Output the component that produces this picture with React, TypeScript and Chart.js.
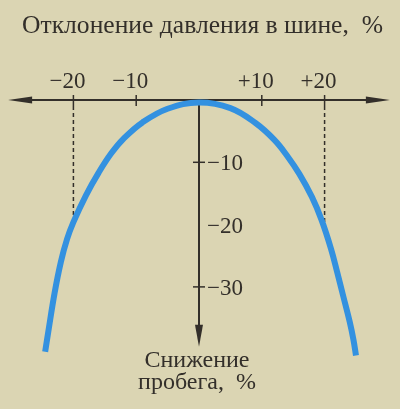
import { useEffect, useRef } from 'react';
import { Chart, registerables, ChartConfiguration, Plugin } from 'chart.js';

Chart.register(...registerables);

// curve: tyre pressure deviation (%) vs mileage reduction (%)
const pressureDeviation = [-24.5, -24, -23, -22, -21, -20, -18, -16, -14, -12, -9, -5, 0, 5, 9, 12, 14, 16, 18, 19.5, 21, 22, 23, 24, 24.6, 25];
const mileageReduction = [-40.4, -37.2, -31.0, -26.0, -22.3, -19.6, -15.3, -11.7, -8.6, -6.2, -3.6, -1.4, -0.4, -1.3, -3.7, -6.4, -8.9, -11.9, -15.6, -19.2, -23.8, -27.6, -31.6, -35.6, -38.5, -41.0];

const xTickValues = [-20, -10, 10, 20];
const xTickLabels = ['−20', '−10', '+10', '+20'];
const yTickValues = [-10, -20, -30];
const yTickLabels = ['−10', '−20', '−30'];
const yTickMarks = [-10, -30];

// dashed guides at ±20 %
const guideX = [-20, 20];
const guideY = [-20, -20];

const titleText = 'Отклонение давления в шине,  %';
const yTitleLines = ['Снижение', 'пробега,  %'];

const INK = '#332f2a';
const PAPER = '#dbd5b3';
const SERIF = '"Liberation Serif", "DejaVu Serif", serif';

const arrowHead = (ctx: CanvasRenderingContext2D, tx: number, ty: number, dx: number, dy: number, len: number, half: number) => {
    // dx, dy: unit direction the arrow points to
    const bx = tx - dx * len;
    const by = ty - dy * len;
    ctx.beginPath();
    ctx.moveTo(tx, ty);
    ctx.lineTo(bx - dy * half, by + dx * half);
    ctx.lineTo(bx + dy * half, by - dx * half);
    ctx.closePath();
    ctx.fill();
};

const axesPlugin: Plugin<'line'> = {
    id: 'bookAxes',
    beforeDraw(chart) {
        const { ctx, width, height } = chart;
        ctx.save();
        ctx.fillStyle = PAPER;
        ctx.fillRect(0, 0, width, height);
        ctx.restore();
    },
    beforeDatasetsDraw(chart) {
        const { ctx } = chart;
        const xs = chart.scales.x;
        const ys = chart.scales.y;
        const x0 = xs.getPixelForValue(0);
        const y0 = ys.getPixelForValue(0);
        const left = xs.getPixelForValue(-30.4);
        const right = xs.getPixelForValue(30.4);
        const bottom = ys.getPixelForValue(-39.6);

        ctx.save();
        ctx.strokeStyle = INK;
        ctx.fillStyle = INK;
        ctx.lineWidth = 2;

        // horizontal axis with arrows both ends
        ctx.beginPath();
        ctx.moveTo(left + 10, y0);
        ctx.lineTo(right - 10, y0);
        ctx.stroke();
        arrowHead(ctx, left, y0, -1, 0, 24, 3.5);
        arrowHead(ctx, right, y0, 1, 0, 24, 3.5);

        // vertical axis pointing down
        ctx.beginPath();
        ctx.moveTo(x0, y0);
        ctx.lineTo(x0, bottom - 10);
        ctx.stroke();
        arrowHead(ctx, x0, bottom, 0, 1, 22, 4);

        // tick marks
        ctx.lineWidth = 1.5;
        xTickValues.forEach((v) => {
            const px = xs.getPixelForValue(v);
            ctx.beginPath();
            ctx.moveTo(px, y0 - 5);
            ctx.lineTo(px, y0 + 6);
            ctx.stroke();
        });
        yTickMarks.forEach((v) => {
            const py = ys.getPixelForValue(v);
            ctx.beginPath();
            ctx.moveTo(x0 - 6, py);
            ctx.lineTo(x0 + 6, py);
            ctx.stroke();
        });

        // dashed drop lines
        ctx.setLineDash([4, 3]);
        ctx.lineWidth = 1.5;
        guideX.forEach((gx, i) => {
            const px = xs.getPixelForValue(gx);
            ctx.beginPath();
            ctx.moveTo(px, y0 + 6);
            ctx.lineTo(px, ys.getPixelForValue(guideY[i]));
            ctx.stroke();
        });
        ctx.restore();
    },
    afterDatasetsDraw(chart) {
        const { ctx } = chart;
        const xs = chart.scales.x;
        const ys = chart.scales.y;
        const x0 = xs.getPixelForValue(0);
        const y0 = ys.getPixelForValue(0);

        ctx.save();
        ctx.fillStyle = INK;

        // title, stretched to the width it has in the book
        ctx.font = `24px ${SERIF}`;
        const w = ctx.measureText(titleText).width;
        const size = 24 * 361 / w;
        ctx.font = `${size}px ${SERIF}`;
        ctx.textAlign = 'left';
        ctx.textBaseline = 'alphabetic';
        ctx.fillText(titleText, 22, 33);

        // x tick labels above the axis
        ctx.font = `23px ${SERIF}`;
        ctx.textAlign = 'center';
        xTickValues.forEach((v, i) => {
            ctx.fillText(xTickLabels[i], xs.getPixelForValue(v) - 6, y0 - 12);
        });

        // y tick labels right of the axis
        ctx.textAlign = 'left';
        yTickValues.forEach((v, i) => {
            ctx.fillText(yTickLabels[i], x0 + 8, ys.getPixelForValue(v) + 8);
        });

        // vertical axis title below the arrow
        ctx.font = `24px ${SERIF}`;
        ctx.textAlign = 'center';
        ctx.fillText(yTitleLines[0], x0 - 2, 367);
        ctx.fillText(yTitleLines[1], x0 - 2, 389);
        ctx.restore();
    },
};

const App: React.FC = () => {
    const canvasRef = useRef<HTMLCanvasElement | null>(null);
    const chartInstance = useRef<Chart<'line'> | null>(null);

    useEffect(() => {
        if (!canvasRef.current) return;
        if (chartInstance.current) chartInstance.current.destroy();

        const config: ChartConfiguration<'line'> = {
            type: 'line',
            data: {
                datasets: [
                    {
                        label: 'Снижение пробега',
                        data: pressureDeviation.map((x, i) => ({ x, y: mileageReduction[i] })),
                        borderColor: '#3391e0',
                        borderWidth: 6,
                        pointRadius: 0,
                        tension: 0.4,
                        borderCapStyle: 'butt',
                        borderJoinStyle: 'round',
                        fill: false,
                    },
                ],
            },
            options: {
                animation: false,
                responsive: true,
                maintainAspectRatio: false,
                layout: { padding: 0 },
                plugins: {
                    legend: { display: false },
                    title: { display: false },
                    tooltip: { enabled: false },
                },
                scales: {
                    x: { type: 'linear', display: false, min: -31.69, max: 32.01 },
                    y: { type: 'linear', display: false, min: -49.6, max: 16.05 },
                },
            },
            plugins: [axesPlugin],
        };

        chartInstance.current = new Chart(canvasRef.current, config);

        return () => {
            if (chartInstance.current) {
                chartInstance.current.destroy();
                chartInstance.current = null;
            }
        };
    }, []);

    return (
        <div style={{ position: 'absolute', left: 0, top: 0, width: 400, height: 409 }}>
            <canvas ref={canvasRef} />
        </div>
    );
};

export default App;
